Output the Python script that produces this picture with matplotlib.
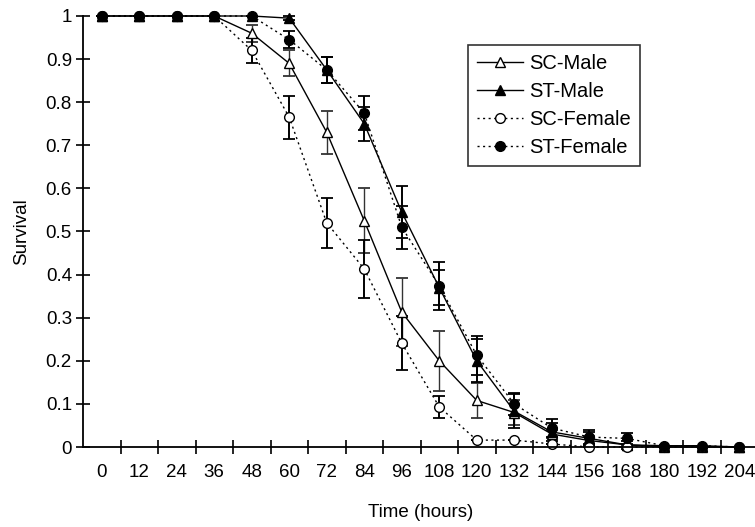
import matplotlib.pyplot as plt
from matplotlib.lines import Line2D

plt.rcParams['font.family'] = ['Liberation Sans', 'DejaVu Sans']

hours = [0, 12, 24, 36, 48, 60, 72, 84, 96, 108, 120, 132, 144, 156, 168, 180, 192, 204]

sc_male = [1, 1, 1, 1, 0.96, 0.89, 0.73, 0.525, 0.313, 0.20, 0.108, 0.08, 0.03, 0.015, 0.005, 0, 0, 0]
sc_male_err = [0, 0, 0, 0, 0.02, 0.03, 0.05, 0.075, 0.078, 0.07, 0.04, 0.03, 0.01, 0.01, 0, 0, 0, 0]

st_male = [1, 1, 1, 1, 1, 0.995, 0.875, 0.75, 0.545, 0.37, 0.2, 0.083, 0.035, 0.02, 0.005, 0.003, 0.003, 0]
st_male_err = [0, 0, 0, 0, 0, 0.005, 0.03, 0.04, 0.06, 0.04, 0.05, 0.04, 0.02, 0.015, 0.01, 0, 0, 0]

sc_female = [1, 1, 1, 1, 0.92, 0.765, 0.52, 0.413, 0.241, 0.093, 0.016, 0.016, 0.007, 0, 0, 0, 0, 0]
sc_female_err = [0, 0, 0, 0, 0.03, 0.05, 0.058, 0.068, 0.063, 0.025, 0, 0, 0, 0, 0, 0, 0, 0]

st_female = [1, 1, 1, 1, 1, 0.945, 0.875, 0.775, 0.51, 0.374, 0.213, 0.10, 0.044, 0.023, 0.02, 0.003, 0.003, 0]
st_female_err = [0, 0, 0, 0, 0, 0.02, 0.03, 0.04, 0.05, 0.055, 0.045, 0.025, 0.02, 0.017, 0.012, 0, 0, 0]

fig = plt.figure(figsize=(7.55, 5.27), dpi=100)
# x axis runs from -6 to 210 h, right end falls just past the image edge
ax = fig.add_axes([83 / 755, 80 / 527, 675 / 755, 431 / 527])

dots = (0, (1.5, 2.5))
common = dict(color='black', markersize=7, capsize=4, capthick=1.3,
              lw=1.0, clip_on=False, markeredgecolor='black')

# SC-Male error bars look thinner/greyer in the original
ax.errorbar(hours, sc_male, yerr=sc_male_err, marker='^', markerfacecolor='white',
            linestyle='-', elinewidth=1.0, ecolor='#333333', **common)
ax.errorbar(hours, st_male, yerr=st_male_err, marker='^', markerfacecolor='black',
            linestyle='-', elinewidth=1.4, **common)
ax.errorbar(hours, sc_female, yerr=sc_female_err, marker='o', markerfacecolor='white',
            linestyle=dots, elinewidth=1.4, **common)
ax.errorbar(hours, st_female, yerr=st_female_err, marker='o', markerfacecolor='black',
            linestyle=dots, elinewidth=1.4, **common)

ax.set_xlim(-6, 210)
ax.set_ylim(0, 1)

# labels sit on the data hours, tick marks sit halfway between them
ax.set_xticks(hours)
ax.set_xticks([h + 6 for h in hours[:-1]], minor=True)
ax.tick_params(axis='x', which='major', length=0, pad=12, labelsize=13.5)
ax.tick_params(axis='x', which='minor', direction='inout', length=10, width=1.2)

ax.set_yticks([0, 0.1, 0.2, 0.3, 0.4, 0.5, 0.6, 0.7, 0.8, 0.9, 1])
ax.set_yticklabels(['0', '0.1', '0.2', '0.3', '0.4', '0.5', '0.6', '0.7', '0.8', '0.9', '1'])
ax.tick_params(axis='y', direction='inout', length=10, width=1.2, pad=3, labelsize=13.5)

ax.spines['top'].set_visible(False)
ax.spines['right'].set_visible(False)
ax.spines['left'].set_linewidth(1.3)
ax.spines['bottom'].set_linewidth(1.3)

ax.set_xlabel('Time (hours)', fontsize=13.5, labelpad=17)
ax.set_ylabel('Survival', fontsize=13.5, labelpad=11)

# legend without the error bar glyphs
handles = [
    Line2D([], [], color='black', lw=1.0, marker='^', markersize=7, markerfacecolor='white'),
    Line2D([], [], color='black', lw=1.0, marker='^', markersize=7, markerfacecolor='black'),
    Line2D([], [], color='black', lw=1.0, linestyle=dots, marker='o', markersize=7, markerfacecolor='white'),
    Line2D([], [], color='black', lw=1.0, linestyle=dots, marker='o', markersize=7, markerfacecolor='black'),
]
labels = ['SC-Male', 'ST-Male', 'SC-Female', 'ST-Female']
leg = fig.legend(handles, labels, loc='upper left', bbox_to_anchor=(468 / 755, 1 - 45 / 527),
                 fontsize=14.5, frameon=True, fancybox=False, edgecolor='black', handlelength=2.3,
                 labelspacing=0.45, borderpad=0.45, handletextpad=0.3, borderaxespad=0)
leg.get_frame().set_linewidth(1.2)

fig.savefig('out.png', dpi=100)
